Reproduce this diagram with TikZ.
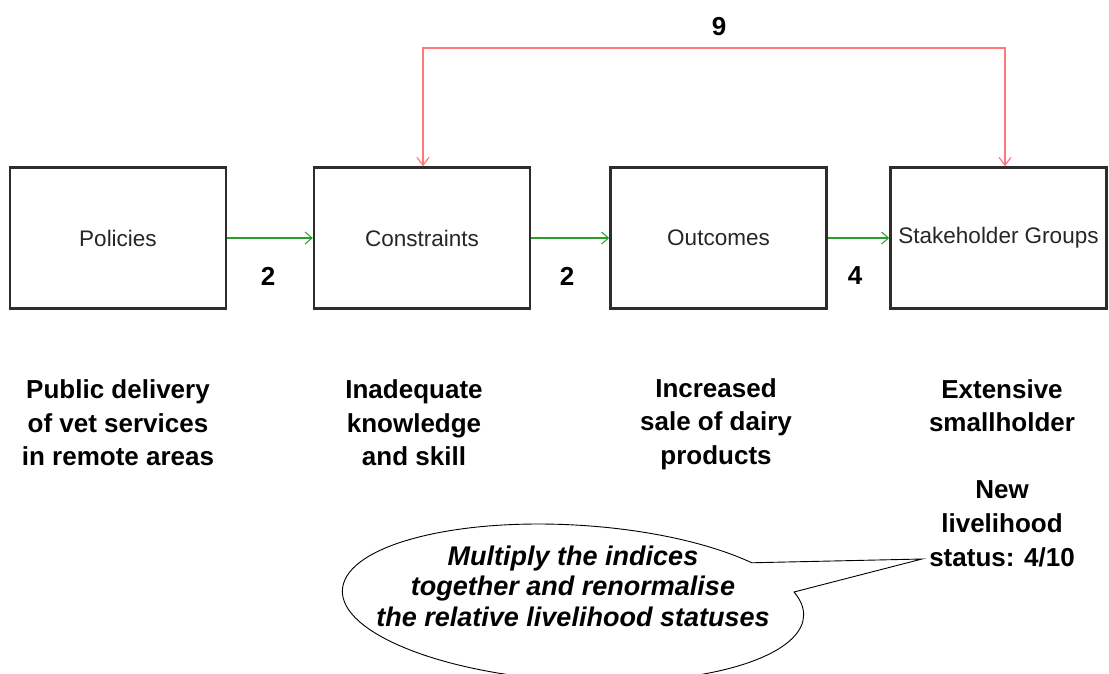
\documentclass[tikz,border=0pt]{standalone}
\usepackage{fontspec}
\setmainfont{Liberation Sans}
\usetikzlibrary{arrows.meta}

\definecolor{boxline}{RGB}{45,45,45}
\definecolor{flowgreen}{RGB}{40,160,40}
\definecolor{loopred}{RGB}{255,120,120}

\begin{document}
\begin{tikzpicture}[x=1pt,y=1pt,
  stage/.style={draw=boxline, line width=2.4pt, fill=white,
    minimum width=216pt, minimum height=141pt, inner sep=0pt,
    font=\fontsize{22.5}{26}\selectfont, text=black!85},
  flow/.style={draw=flowgreen, line width=1.1pt,
    -{Straight Barb[length=7pt,width=12pt,line width=1pt]}},
  loop/.style={draw=loopred, line width=2pt,
    {Straight Barb[length=8pt,width=12pt,line width=1.2pt]}-{Straight Barb[length=8pt,width=12pt,line width=1.2pt]}},
  weight/.style={font=\bfseries\fontsize{26}{30}\selectfont},
  caption/.style={align=center, inner sep=0pt,
    font=\bfseries\fontsize{26}{33.6}\selectfont},
  note/.style={align=center, inner sep=0pt,
    font=\bfseries\itshape\fontsize{27}{30.5}\selectfont}]

\useasboundingbox (0,0) rectangle (1109,-673);

% stages of the pathway
\node[stage] (pol) at (118,-238)   {Policies};
\node[stage] (con) at (422,-238)   {Constraints};
\node[stage] (out) at (718.5,-238) {Outcomes};
\node[stage] (stk) at (998.5,-238) {Stakeholder Groups};

% forward links with their indices
\draw[flow] (pol.east) -- (con.west);
\draw[flow] (con.east) -- (out.west);
\draw[flow] (out.east) -- (stk.west);
\node[weight] (w1) at (268,-276) {2};
\node[weight] (w2) at (567,-276) {2};
\node[weight] (w3) at (855,-276) {4};

% overarching link from constraints to stakeholders
\coordinate (r1) at (423,-48);
\coordinate (r2) at (1005,-48);
\draw[loop] (con.north -| r1) -- (r1) -- (r2) -- (stk.north -| r2);
\node[weight] (w4) at (719,-27) {9};

% descriptions below each stage
\node[caption] (d1) at (118,-423) {Public delivery\\of vet services\\in remote areas};
\node[caption] (d2) at (414,-423) {Inadequate\\knowledge\\and skill};
\node[caption] (d3) at (716,-424) {Increased\\sale of dairy\\products};
\node[caption] (d4) at (1002,-473) {Extensive\\smallholder\\\mbox{}\\New\\livelihood\\status: 4/10};

% speech bubble pointing at the new status
\coordinate (tip) at (922,-559);
\begin{scope}[shift={(573,-603)}, rotate=-3.3]
  \draw[black, line width=0.9pt, fill=white]
    ({231*cos(40.3)},{78*sin(40.3)})
    arc[start angle=40.3, end angle=377.7, x radius=231, y radius=78]
    -- (tip) -- cycle;
\end{scope}
\node[note] (msg) at (573,-586) {Multiply the indices\\together and renormalise\\the relative livelihood statuses};

\end{tikzpicture}
\end{document}
